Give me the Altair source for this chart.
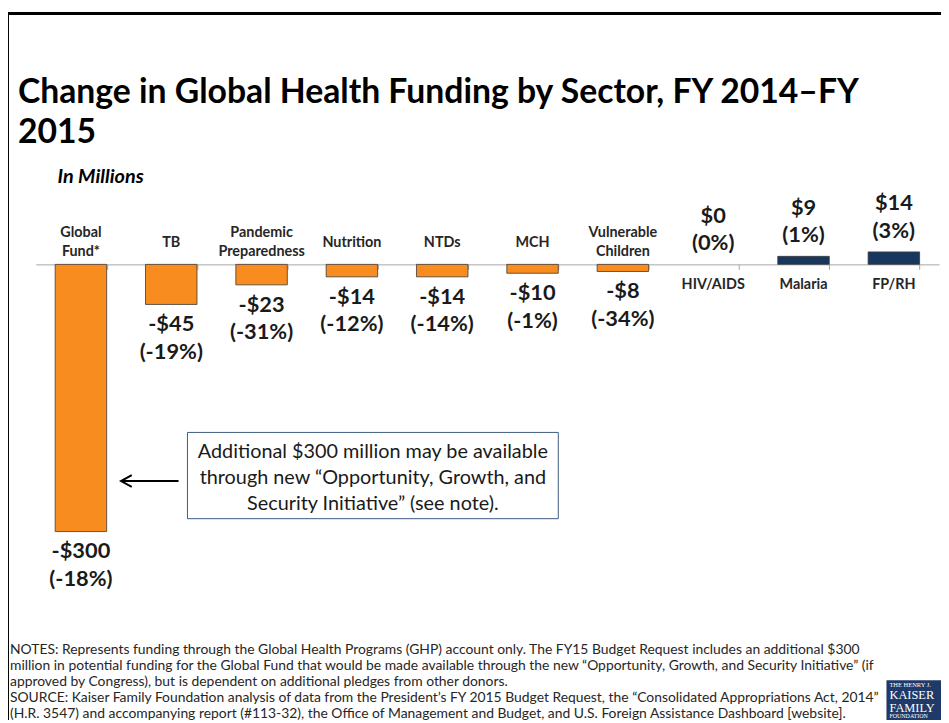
import altair as alt
import pandas as pd

# ---- data ----
sectors = ["Global\nFund*", "TB", "Pandemic\nPreparedness", "Nutrition", "NTDs",
           "MCH", "Vulnerable\nChildren", "HIV/AIDS", "Malaria", "FP/RH"]
changes = [-300, -45, -23, -14, -14, -10, -8, 0, 9, 14]
pct_changes = [-18, -19, -31, -12, -14, -1, -34, 0, 1, 3]

title_text = "Change in Global Health Funding by Sector, FY 2014\u2013FY\n2015"
subtitle_text = "In Millions"
box_text = ("Additional $300 million may be available\n"
            "through new \u201cOpportunity, Growth, and\n"
            "Security Initiative\u201d (see note).")
notes_text = (
    "NOTES: Represents funding through the Global Health Programs (GHP) account only. The FY15 Budget Request includes an additional $300\n"
    "million in potential funding for the Global Fund that would be made available through the new \u201cOpportunity, Growth, and Security Initiative\u201d (if\n"
    "approved by Congress), but is dependent on additional pledges from other donors.\n"
    "SOURCE: Kaiser Family Foundation analysis of data from the President\u2019s FY 2015 Budget Request, the \u201cConsolidated Appropriations Act, 2014\u201d\n"
    "(H.R. 3547) and accompanying report (#113-32), the Office of Management and Budget, and U.S. Foreign Assistance Dashboard [website]."
)

W, H = 941, 715
ORANGE = "#F98C1E"
NAVY = "#17375E"
FONT = "Lato"

df = pd.DataFrame({"sector": sectors, "change": changes, "pct": pct_changes})
base = alt.Chart(df)

x_enc = alt.X(
    "sector:N", sort=sectors,
    scale=alt.Scale(domain=sectors, range=[28, 939], paddingInner=0.43, paddingOuter=0.215),
    axis=alt.Axis(orient="bottom", offset=255.5 - H, labels=False, title=None, grid=False,
                  tickBand="extent", domainColor="#a6a6a6", tickColor="#a6a6a6",
                  tickSize=5, domainWidth=1, tickWidth=1),
)
y_enc = alt.Y("change:Q", scale=alt.Scale(domain=[-300, 0], range=[525, 255.5], zero=False, nice=False),
              axis=None, stack=None)

bars = base.transform_filter("datum.change != 0").mark_bar(
    stroke="#3a3a3a", strokeWidth=0.8
).encode(
    x=x_enc, y=y_enc, y2=alt.datum(0),
    color=alt.condition("datum.change < 0", alt.value(ORANGE), alt.value(NAVY)),
)

VAL_FS = 22
neg_vals = base.transform_filter("datum.change < 0").transform_calculate(
    lbl="'-$' + abs(datum.change) + '\\n(' + datum.pct + '%)'"
).mark_text(font=FONT, fontSize=VAL_FS, fontWeight="bold", baseline="top", dy=10,
            lineBreak="\n", lineHeight=28, color="#1a1a1a").encode(x=x_enc, y=y_enc, text="lbl:N")

pos_vals = base.transform_filter("datum.change >= 0").transform_calculate(
    lbl="'$' + datum.change + '\\n(' + datum.pct + '%)'"
).mark_text(font=FONT, fontSize=VAL_FS, fontWeight="bold", baseline="bottom", dy=-37,
            lineBreak="\n", lineHeight=28, color="#1a1a1a").encode(x=x_enc, y=y_enc, text="lbl:N")

CAT_FS = 14.5
is_multi = "indexof(datum.sector, '\\n') >= 0"
cat_style = dict(font=FONT, fontSize=CAT_FS, fontWeight="bold", baseline="middle",
                 lineBreak="\n", lineHeight=19, color="#262626")

cat_top_multi = base.transform_filter(f"datum.change < 0 && {is_multi}").mark_text(
    **cat_style).encode(x=x_enc, y=alt.value(224), text="sector:N")
cat_top_single = base.transform_filter(f"datum.change < 0 && !({is_multi})").mark_text(
    **cat_style).encode(x=x_enc, y=alt.value(234), text="sector:N")
cat_bottom = base.transform_filter("datum.change >= 0").mark_text(
    **cat_style).encode(x=x_enc, y=alt.value(276), text="sector:N")


def one(text):
    return alt.Chart(pd.DataFrame({"t": [text]}))


title = one(title_text).mark_text(
    font=FONT, fontSize=34, fontWeight="bold", align="left", baseline="alphabetic",
    lineBreak="\n", lineHeight=40, color="#000000"
).encode(x=alt.value(10), y=alt.value(93), text="t:N")

subtitle = one(subtitle_text).mark_text(
    font=FONT, fontSize=20, fontWeight="bold", fontStyle="italic", align="left",
    baseline="alphabetic", color="#000000"
).encode(x=alt.value(50), y=alt.value(173), text="t:N")

box = one("box").mark_rect(fill="white", stroke="#3d5a80", strokeWidth=1).encode(
    x=alt.value(181), x2=alt.value(555), y=alt.value(425), y2=alt.value(512))

box_label = one(box_text).mark_text(
    font=FONT, fontSize=20, align="center", baseline="alphabetic", lineBreak="\n",
    lineHeight=26, color="#1a1a1a"
).encode(x=alt.value(368), y=alt.value(451), text="t:N")

arrow_line = one("a").mark_rule(color="black", strokeWidth=2).encode(
    x=alt.value(115), x2=alt.value(172), y=alt.value(474))
arrow_head = one("a").mark_point(
    shape="M0.8,-1L-1,0L0.8,1", size=144, filled=False, color="black", strokeWidth=2, opacity=1
).encode(x=alt.value(120), y=alt.value(474))

notes = one(notes_text).mark_text(
    font=FONT, fontSize=14, align="left", baseline="alphabetic", lineBreak="\n",
    lineHeight=16.3, color="#262626"
).encode(x=alt.value(2), y=alt.value(648), text="t:N")

top_border = one("b").mark_rule(color="black", strokeWidth=3).encode(
    x=alt.value(0), x2=alt.value(W), y=alt.value(2.5))
left_border = one("b").mark_rule(color="black", strokeWidth=2).encode(
    x=alt.value(0), y=alt.value(1), y2=alt.value(H))

logo_box = one("logo").mark_rect(fill="#1F3A68").encode(
    x=alt.value(886), x2=alt.value(W), y=alt.value(675), y2=alt.value(H))
logo_small = one("THE HENRY J.").mark_text(
    font="Liberation Serif", fontSize=6.5, align="left", baseline="middle", color="white"
).encode(x=alt.value(889), y=alt.value(680), text="t:N")
logo_big = one("KAISER\nFAMILY").mark_text(
    font="Liberation Serif", fontSize=12.5, align="left", baseline="middle", color="white",
    lineBreak="\n", lineHeight=12.5
).encode(x=alt.value(889), y=alt.value(690), text="t:N")
logo_found = one("FOUNDATION").mark_text(
    font="Liberation Serif", fontSize=6, align="left", baseline="middle", color="white"
).encode(x=alt.value(889), y=alt.value(711.5), text="t:N")

chart = alt.layer(
    top_border, left_border, title, subtitle, bars, neg_vals, pos_vals,
    cat_top_multi, cat_top_single, cat_bottom,
    box, box_label, arrow_line, arrow_head, notes, logo_box, logo_small, logo_big, logo_found
).properties(
    width=W, height=H, autosize="none", padding=0, background="white"
).configure_view(stroke=None)

chart.save("out.html", embed_options={"renderer": "svg", "actions": False})
